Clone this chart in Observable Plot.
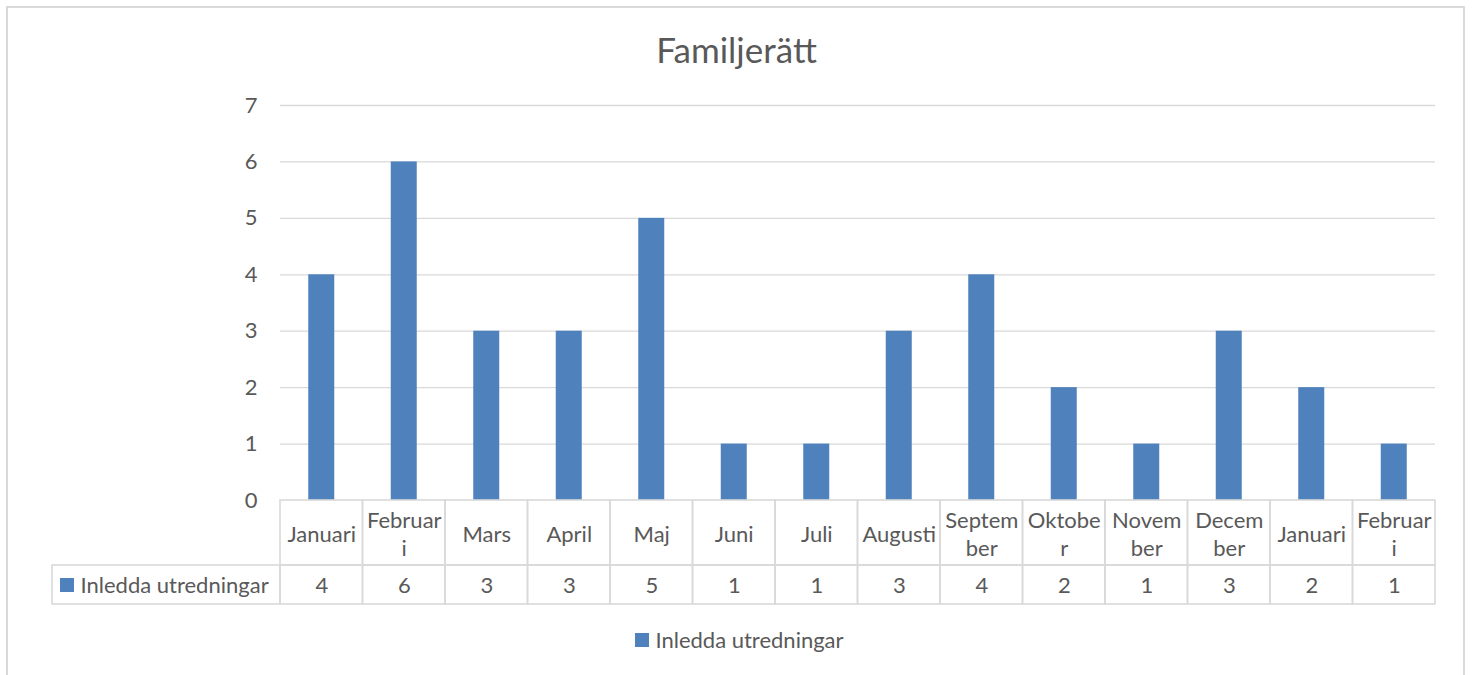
<!DOCTYPE html>
<html>
<head>
<meta charset="utf-8">
<script src="https://cdn.jsdelivr.net/npm/d3@7"></script>
<script src="https://cdn.jsdelivr.net/npm/@observablehq/plot@0.6"></script>
<style>
  html, body { margin: 0; padding: 0; background: #fff; }
  body { font-family: Lato, "Noto Sans", sans-serif; color: #595959; width: 1473px; height: 675px; overflow: hidden; position: relative; }
  #frame { position: absolute; left: 6px; top: 6px; width: 1459px; height: 720px; border: 2px solid #d9d9d9; box-sizing: border-box; pointer-events: none; }
  #title { height: 88px; box-sizing: border-box; padding-top: 28px; line-height: 1.2; font-size: 35px; text-align: center; }
  #chart svg { display: block; }
  #legend { display: flex; justify-content: center; align-items: center; gap: 6px; padding-top: 7px; font-size: 22px; line-height: 1.2; padding-left: 6px; }
  #legend .sw { width: 14px; height: 14px; background: #4f81bd; }
</style>
</head>
<body>
<div id="frame"></div>
<div id="title">Familjerätt</div>
<div id="chart"></div>
<div id="legend"><span class="sw"></span><span>Inledda utredningar</span></div>
<script>
const months = ["Januari", "Februari", "Mars", "April", "Maj", "Juni", "Juli", "Augusti", "September", "Oktober", "November", "December", "Januari", "Februari"];
const headerLabels = ["Januari", "Februar\ni", "Mars", "April", "Maj", "Juni", "Juli", "Augusti", "Septem\nber", "Oktobe\nr", "Novem\nber", "Decem\nber", "Januari", "Februar\ni"];
const values = [4, 6, 3, 3, 5, 1, 1, 3, 4, 2, 1, 3, 2, 1];
const seriesName = "Inledda utredningar";
const yTicks = [0, 1, 2, 3, 4, 5, 6, 7];

const data = months.map((m, i) => ({i, month: m, label: headerLabels[i], value: values[i]}));

const W = 1473, H = 532;
const mL = 280, mR = 38, mT = 17, mB = 120;
const step = (W - mL - mR) / months.length;
const barW = 26;
const inset = (step - barW) / 2;
const grid = "#d9d9d9";
const txt = "#595959";
const blue = "#4f81bd";

const chart = Plot.plot({
  width: W,
  height: H,
  marginLeft: mL,
  marginRight: mR,
  marginTop: mT,
  marginBottom: mB,
  style: {fontFamily: "Lato, 'Noto Sans', sans-serif", color: txt, background: "transparent"},
  x: {type: "band", domain: d3.range(months.length), padding: 0, round: false, axis: null},
  y: {domain: [0, 7], axis: null},
  marks: [
    Plot.ruleY(yTicks.filter(d => d > 0), {stroke: grid, strokeWidth: 1.3}),
    Plot.axisY({ticks: yTicks, tickFormat: d3.format("d"), tickSize: 0, tickPadding: 23, fontSize: 22, fill: txt, label: null}),
    Plot.barY(data, {x: "i", y: "value", fill: blue, insetLeft: inset, insetRight: inset}),
    // header row cells
    Plot.barY(data, {x: "i", y1: 0, y2: 0, insetBottom: -65, fill: "none", stroke: grid, strokeWidth: 1.6}),
    // data row cells
    Plot.barY(data, {x: "i", y1: 0, y2: 0, insetTop: 65, insetBottom: -104, fill: "none", stroke: grid, strokeWidth: 1.6}),
    // series-name cell to the left of the data row
    Plot.barY([data[0]], {x: "i", y1: 0, y2: 0, insetTop: 65, insetBottom: -104, insetLeft: -228, insetRight: step, fill: "none", stroke: grid, strokeWidth: 1.6}),
    // legend key in the table
    Plot.barY([data[0]], {x: "i", y1: 0, y2: 0, insetTop: 78, insetBottom: -92, insetLeft: -220, insetRight: step + 220 - 14, fill: blue}),
    Plot.text([data[0]], {x: "i", y: 0, dy: 85, dx: 80 - (mL + step / 2), text: () => seriesName, textAnchor: "start", fontSize: 22, fill: txt}),
    // header labels
    Plot.text(data, {x: "i", y: 0, dy: 33, text: "label", fontSize: 22, lineHeight: 1.27, fill: txt}),
    // values
    Plot.text(data, {x: "i", y: 0, dy: 85, text: "value", fontSize: 22, fill: txt})
  ]
});
document.getElementById("chart").appendChild(chart);
</script>
</body>
</html>
